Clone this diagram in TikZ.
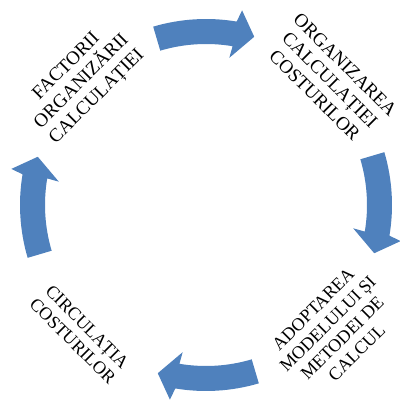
\documentclass[tikz,border=0pt]{standalone}
\usepackage{fontspec}
\setmainfont{Liberation Serif}
\definecolor{arrowblue}{HTML}{4F81BD}
\begin{document}
\begin{tikzpicture}[x=1pt,y=1pt,
  cyclelabel/.style={align=center, inner sep=0pt, text=black},
  bigtext/.style={font=\fontsize{19}{21.5}\selectfont},
  smalltext/.style={font=\fontsize{18}{20.5}\selectfont}]
\useasboundingbox (0,0) rectangle (399,404);
\coordinate (C) at (206,199);

% four curved arrows around the cycle, each centred on angle \a
\begin{scope}[shift={(C)}]
\foreach \a in {90,0,-90,180}{
  \fill[arrowblue]
    ({\a+16.5}:186) arc[start angle={\a+16.5}, end angle={\a-9.5}, radius=186]
    -- ({\a-10.5}:198) -- ({\a-16}:175) -- ({\a-9}:149)
    -- ({\a-9.5}:161) arc[start angle={\a-9.5}, end angle={\a+16.5}, radius=161]
    -- cycle;
}
\end{scope}

% stage labels
\node[cyclelabel, bigtext, rotate=45] (factori) at (82,322)
  {FACTORII\\ORGANIZĂRII\\CALCULAȚIEI};
\node[cyclelabel, bigtext, rotate=-45] (organizare) at (330,324)
  {ORGANIZAREA\\CALCULAȚIEI\\COSTURILOR};
\node[cyclelabel, smalltext, rotate=45] (adoptare) at (335,73)
  {ADOPTAREA\\MODELULUI ȘI\\METODEI DE\\CALCUL};
\node[cyclelabel, smalltext, rotate=-45] (circulatie) at (80,70)
  {CIRCULAȚIA\\COSTURILOR};
\end{tikzpicture}
\end{document}
